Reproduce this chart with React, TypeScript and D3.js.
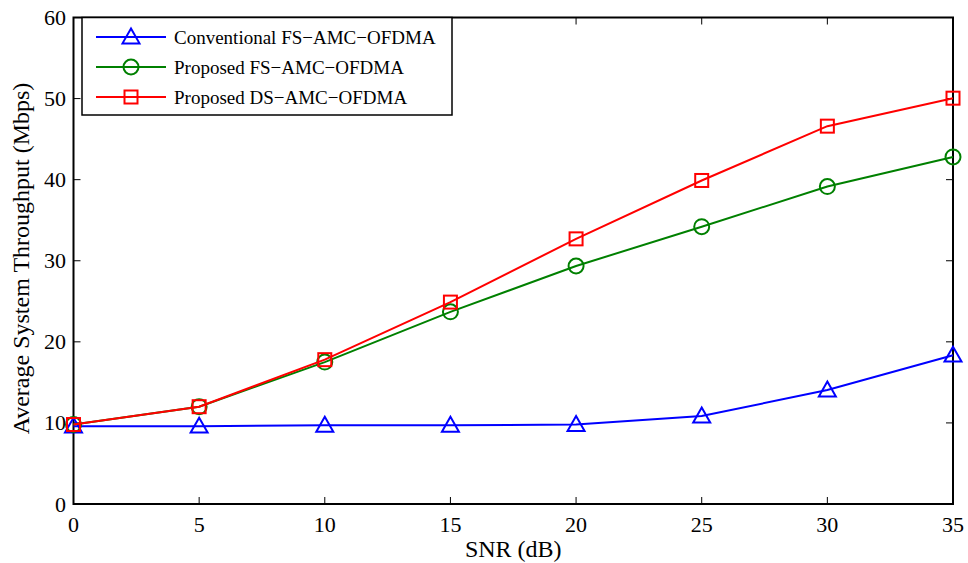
import React from "react";
import * as d3 from "d3";

// SNR points (dB)
const snr = [0, 5, 10, 15, 20, 25, 30, 35];
// Average system throughput (Mbps)
const conventionalFS = [9.6, 9.6, 9.7, 9.7, 9.8, 10.85, 14.05, 18.35];
const proposedFS = [9.8, 12.0, 17.5, 23.7, 29.35, 34.2, 39.15, 42.8];
const proposedDS = [9.8, 12.0, 17.8, 24.9, 32.7, 39.9, 46.6, 50.05];

const xTicks = [0, 5, 10, 15, 20, 25, 30, 35];
const yTicks = [0, 10, 20, 30, 40, 50, 60];

const seriesNames = [
  "Conventional FS\u2212AMC\u2212OFDMA",
  "Proposed FS\u2212AMC\u2212OFDMA",
  "Proposed DS\u2212AMC\u2212OFDMA",
];
const seriesColors = ["#0000ff", "#008000", "#ff0000"];
const seriesMarkers = ["triangle", "circle", "square"];

const W = 968;
const H = 563;
const left = 73.5;
const right = 953;
const top = 17.5;
const bottom = 504;
const font = "'Liberation Serif', 'Times New Roman', serif";

function Marker({ kind, x, y, color }: { kind: string; x: number; y: number; color: string }) {
  if (kind === "circle") {
    return <circle cx={x} cy={y} r={7.5} fill="none" stroke={color} strokeWidth={2} />;
  }
  if (kind === "square") {
    return <rect x={x - 6.5} y={y - 6.5} width={13} height={13} fill="none" stroke={color} strokeWidth={2} />;
  }
  const s = 8.5;
  const path = `M${x},${y - s} L${x + s},${y + s * 0.75} L${x - s},${y + s * 0.75} Z`;
  return <path d={path} fill="none" stroke={color} strokeWidth={2} />;
}

export default function App() {
  const x = d3.scaleLinear().domain([0, 35]).range([left, right]);
  const y = d3.scaleLinear().domain([0, 60]).range([bottom, top]);
  const line = d3
    .line<[number, number]>()
    .x((d) => x(d[0]))
    .y((d) => y(d[1]));

  const all = [conventionalFS, proposedFS, proposedDS];
  const tickLen = 7;

  return (
    <svg width={W} height={H} style={{ position: "absolute", left: 0, top: 0, background: "#fff" }}>
      <rect x={0} y={0} width={W} height={H} fill="#fff" />
      {/* ticks on all four sides, pointing inward */}
      {xTicks.map((t) => (
        <g key={"x" + t}>
          <line x1={x(t)} x2={x(t)} y1={bottom} y2={bottom - tickLen} stroke="#000" strokeWidth={1} />
          <line x1={x(t)} x2={x(t)} y1={top} y2={top + tickLen} stroke="#000" strokeWidth={1} />
          <text x={x(t)} y={532} textAnchor="middle" fontFamily={font} fontSize={22} fill="#000">
            {t}
          </text>
        </g>
      ))}
      {yTicks.map((t) => (
        <g key={"y" + t}>
          <line x1={left} x2={left + tickLen} y1={y(t)} y2={y(t)} stroke="#000" strokeWidth={1} />
          <line x1={right} x2={right - tickLen} y1={y(t)} y2={y(t)} stroke="#000" strokeWidth={1} />
          <text x={66} y={y(t) + 7.5} textAnchor="end" fontFamily={font} fontSize={22} fill="#000">
            {t}
          </text>
        </g>
      ))}
      <rect x={left} y={top} width={right - left} height={bottom - top} fill="none" stroke="#000" strokeWidth={2} />

      {/* series */}
      {all.map((vals, i) => {
        const pts: [number, number][] = snr.map((s, j) => [s, vals[j]]);
        return (
          <g key={"s" + i}>
            <path d={line(pts) || ""} fill="none" stroke={seriesColors[i]} strokeWidth={2} />
            {pts.map((p, j) => (
              <Marker key={j} kind={seriesMarkers[i]} x={x(p[0])} y={y(p[1])} color={seriesColors[i]} />
            ))}
          </g>
        );
      })}

      {/* legend */}
      <rect x={82} y={top} width={370} height={115 - top} fill="#fff" stroke="#000" strokeWidth={1.5} />
      {seriesNames.map((name, i) => {
        const ly = 37 + i * 30;
        return (
          <g key={"l" + i}>
            <line x1={96} x2={166} y1={ly} y2={ly} stroke={seriesColors[i]} strokeWidth={2} />
            <Marker kind={seriesMarkers[i]} x={131} y={ly} color={seriesColors[i]} />
            <text x={174} y={ly + 6.5} fontFamily={font} fontSize={19} fill="#000">
              {name}
            </text>
          </g>
        );
      })}

      {/* axis titles */}
      <text x={(left + right) / 2} y={557} textAnchor="middle" fontFamily={font} fontSize={24} fill="#000">
        SNR (dB)
      </text>
      <text
        transform={`translate(29, 258.5) rotate(-90)`}
        textAnchor="middle"
        fontFamily={font}
        fontSize={24}
        fill="#000"
      >
        Average System Throughput (Mbps)
      </text>
    </svg>
  );
}
